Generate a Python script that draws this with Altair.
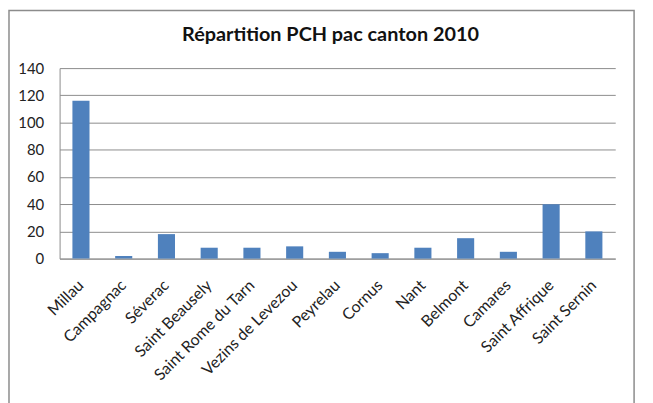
import altair as alt
import pandas as pd

title_text = "Répartition PCH pac canton 2010"
cantons = ["Millau", "Campagnac", "Séverac", "Saint Beausely", "Saint Rome du Tarn",
           "Vezins de Levezou", "Peyrelau", "Cornus", "Nant", "Belmont", "Camares",
           "Saint Affrique", "Saint Sernin"]
values = [116, 2, 18, 8, 8, 9, 5, 4, 8, 15, 5, 40, 20]
y_ticks = [0, 20, 40, 60, 80, 100, 120, 140]

df = pd.DataFrame({"canton": cantons, "pch": values})

FONT = "Lato"
GRID = "#8c8c8c"

bars = alt.Chart(df).mark_bar(color="#4F81BD", width=alt.RelativeBandSize(0.4)).encode(
    x=alt.X("canton:N", sort=cantons, title=None,
            scale=alt.Scale(paddingInner=0, paddingOuter=0),
            axis=alt.Axis(labelAngle=-45, labelAlign="right", labelBaseline="middle",
                          labelFontSize=16, labelFont=FONT, labelColor="#222",
                          ticks=False, domain=True, domainColor=GRID, labelPadding=24,
                          labelLimit=300)),
    y=alt.Y("pch:Q", title=None,
            scale=alt.Scale(domain=[0, 140], nice=False),
            axis=alt.Axis(values=y_ticks, labelFontSize=15, labelFont=FONT, labelColor="#222",
                          ticks=False, domain=True, domainColor=GRID, gridColor=GRID,
                          gridOpacity=1, labelPadding=16)),
)

single = pd.DataFrame({"k": [0]})

border = alt.Chart(single).mark_rect(
    fill=None, stroke="#8c8c8c", strokeWidth=1.5, clip=False).encode(
    x=alt.value(-51), x2=alt.value(579), y=alt.value(-58), y2=alt.value(345)
)

title = alt.Chart(single).mark_text(
    text=title_text, font=FONT, fontSize=20, fontWeight="bold", color="#111",
    align="center", baseline="alphabetic").encode(
    x=alt.value(273), y=alt.value(-27)
)

chart = alt.layer(border, bars, title).properties(
    width=560, height=192,
    autosize=alt.AutoSizeParams(type="none"),
    padding={"left": 52, "top": 59, "right": 30, "bottom": 150},
).configure_view(stroke=None)

chart.save("out.html", embed_options={"renderer": "svg", "actions": False})
